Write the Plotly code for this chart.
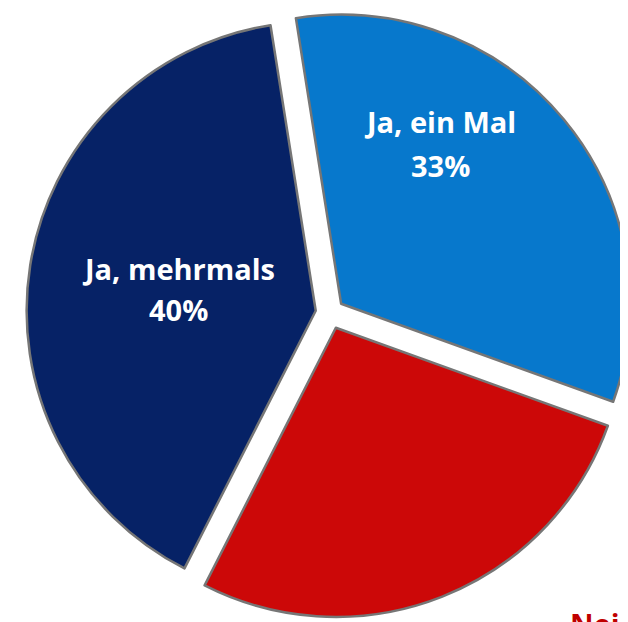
import plotly.graph_objects as go

labels = ["Ja, ein Mal", "Nein", "Ja, mehrmals"]
values = [33, 27, 40]
colors = ["#0778CC", "#CC0808", "#062266"]
label_colors = ["white", "#C00000", "white"]

# Figure pixel geometry (the page body adds an 8px offset); the pie is
# deliberately cropped at the right and bottom edges like the reference.
W, H = 630, 614
cx, cy, half = 322, 305, 305

fig = go.Figure(go.Pie(
    labels=labels,
    values=values,
    sort=False,
    direction="clockwise",
    rotation=-9,
    pull=[0.05, 0.055, 0.05],
    marker=dict(colors=colors, line=dict(color="#767676", width=2.5)),
    textinfo="none",
    hoverinfo="label+percent",
    domain=dict(x=[(cx - half) / W, (cx + half) / W],
                y=[1 - (cy + half) / H, 1 - (cy - half) / H]),
    showlegend=False,
))

# label positions in figure px: (x, name line y, percent line y, x-anchor, y-anchor)
label_pos = {
    "Ja, ein Mal": (432, 114, 157, "center", "middle"),
    "Ja, mehrmals": (170, 260, 301, "center", "middle"),
    "Nein": (560, 594, 636, "left", "top"),
}
total = sum(values)
ann = []
for lab, val, col in zip(labels, values, label_colors):
    x, y1, y2, xa, ya = label_pos[lab]
    pct = f"{round(100 * val / total)}%"
    for txt, yy in ((lab, y1), (pct, y2)):
        ann.append(dict(
            text=txt, x=x / W, y=1 - yy / H, xref="paper", yref="paper",
            xanchor=xa, yanchor=ya, showarrow=False,
            font=dict(family="Open Sans", size=29, color=col, weight="bold"),
        ))

fig.update_layout(
    width=W, height=H,
    margin=dict(l=0, r=0, t=0, b=0),
    paper_bgcolor="white", plot_bgcolor="white",
    annotations=ann,
)
fig.write_html("out.html")
